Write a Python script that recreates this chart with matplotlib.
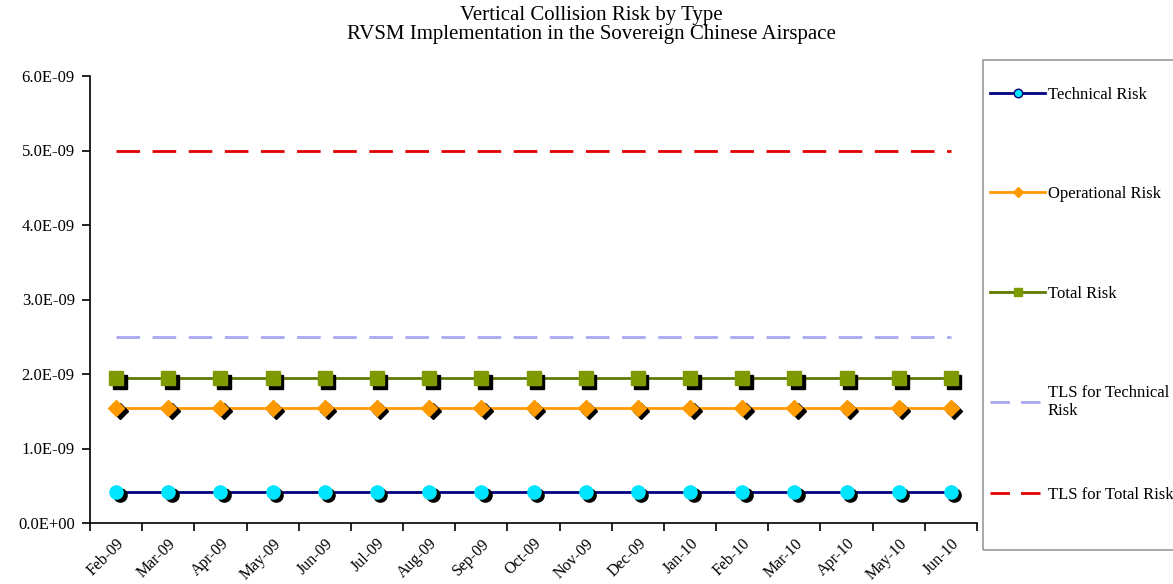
import numpy as np
import matplotlib
matplotlib.use('Agg')
import matplotlib.pyplot as plt
import matplotlib.transforms as mtransforms
from matplotlib.lines import Line2D
from matplotlib.patches import Rectangle

months = ['Feb-09', 'Mar-09', 'Apr-09', 'May-09', 'Jun-09', 'Jul-09', 'Aug-09', 'Sep-09',
          'Oct-09', 'Nov-09', 'Dec-09', 'Jan-10', 'Feb-10', 'Mar-10', 'Apr-10', 'May-10', 'Jun-10']
technical = [0.42e-9] * 17
operational = [1.55e-9] * 17
total = [1.94e-9] * 17
tls_technical = [2.5e-9] * 17
tls_total = [5.0e-9] * 17
ytick_labels = ['0.0E+00', '1.0E-09', '2.0E-09', '3.0E-09', '4.0E-09', '5.0E-09', '6.0E-09']

plt.rcParams['font.family'] = ['Liberation Serif', 'DejaVu Serif']

W, H = 1173, 584
fig = plt.figure(figsize=(W / 100, H / 100), dpi=100)
ax = fig.add_axes([90 / W, 1 - 523 / H, (977 - 90) / W, (523 - 76) / H])

x = np.arange(len(months))
shadow = ax.transData + mtransforms.ScaledTranslation(3.5 / 100, -3.5 / 100, fig.dpi_scale_trans)

series = [
    (technical, '#000080', 'o', '#00E5FF', 9.5, 'Technical Risk'),
    (operational, '#FF9900', 'D', '#FF9900', 8, 'Operational Risk'),
    (total, '#5F7A00', 's', '#7F9A00', 9.5, 'Total Risk'),
]
handles = []
for vals, lc, mk, mf, size, lab in series:
    ax.plot(x, vals, color=lc, lw=2, zorder=2)
    ax.plot(x, vals, ls='none', marker=mk, ms=size, mfc='black', mec='black',
            transform=shadow, zorder=3)
    ax.plot(x, vals, ls='none', marker=mk, ms=size, mfc=mf, mec=mf, zorder=4)
    handles.append(Line2D([], [], color=lc, lw=2, marker=mk, ms=size * 0.65, mfc=mf,
                          mec=lc if mk == 'o' else mf, label=lab))

ax.plot(x, tls_technical, color='#A8A8F0', lw=2, dashes=(8.5, 4.5), zorder=1)
ax.plot(x, tls_total, color='#E00000', lw=2, dashes=(8.5, 4.5), zorder=1)
handles.append(Line2D([], [], color='#A8A8F0', lw=2, dashes=(7, 4), label='TLS for Technical\nRisk'))
last_handle = Line2D([], [], color='#E00000', lw=2, dashes=(7, 4), label='TLS for Total Risk')

ax.set_xlim(-0.5, len(months) - 0.5)
ax.set_ylim(0, 6e-9)
ax.set_yticks(np.arange(0, 6.01e-9, 1e-9))
ax.set_yticklabels(ytick_labels, fontsize=12)
ax.set_xticks(np.arange(-0.5, len(months), 1))
ax.set_xticklabels([])
ax.set_xticks(x, minor=True)
ax.set_xticklabels(months, minor=True, rotation=45, ha='right', rotation_mode='anchor', fontsize=11.5)
ax.tick_params(axis='x', which='minor', length=0, pad=9)
ax.tick_params(axis='x', which='major', length=6, direction='out', width=1.2)
ax.tick_params(axis='y', length=6, direction='out', width=1.2, pad=5)
for s in ['top', 'right']:
    ax.spines[s].set_visible(False)
for s in ['left', 'bottom']:
    ax.spines[s].set_linewidth(1.2)

fig.text(591 / W, 1 - 20 / H, 'Vertical Collision Risk by Type', ha='center', va='baseline', fontsize=15)
fig.text(591 / W, 1 - 39 / H, 'RVSM Implementation in the Sovereign Chinese Airspace',
         ha='center', va='baseline', fontsize=15)

fig.add_artist(Rectangle((983 / W, 1 - 550 / H), 0.3, 490 / H, transform=fig.transFigure,
                         fill=False, edgecolor='#999999', lw=1.2))
leg_kw = dict(borderaxespad=0, borderpad=0, fontsize=12, labelspacing=5.0,
              handlelength=3.3, handletextpad=0.15, frameon=False)
leg = fig.legend(handles=handles, loc='upper left', bbox_to_anchor=(990 / W, 1 - 87 / H), **leg_kw)
leg2 = fig.legend(handles=[last_handle], loc='upper left', bbox_to_anchor=(990 / W, 1 - 487 / H), **leg_kw)

fig.savefig('out.png', dpi=100)
